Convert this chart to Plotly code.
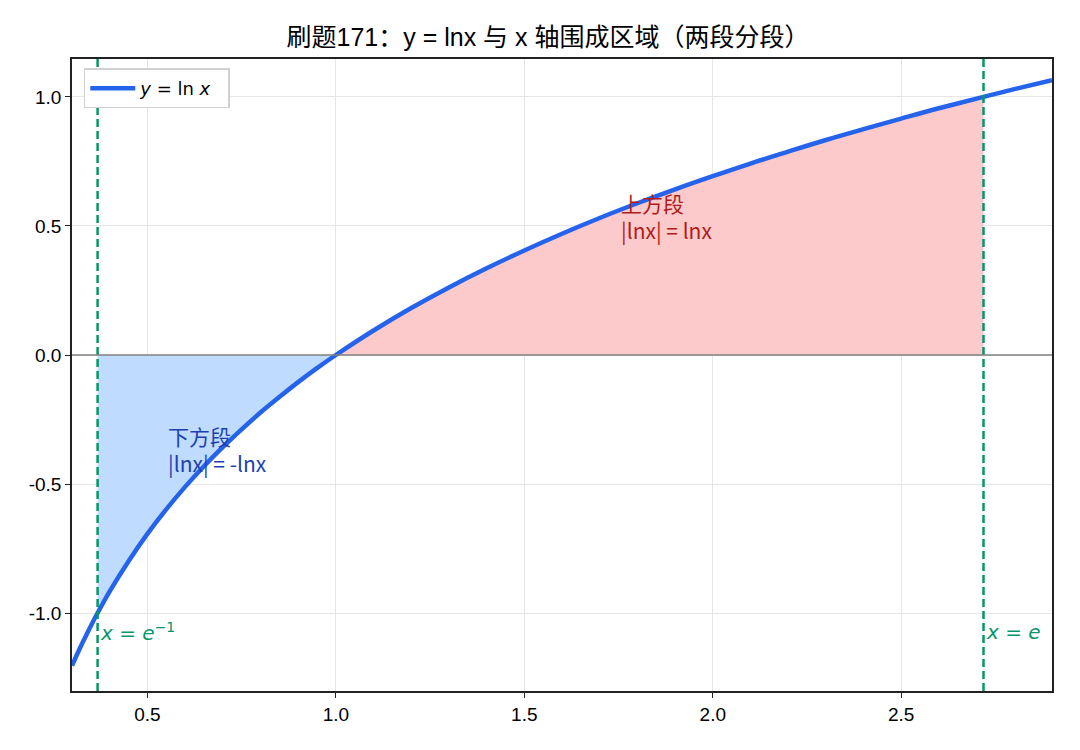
import plotly.graph_objects as go

# y = ln x のサンプル点
x_pts = [0.30, 0.32, 0.34, 0.3679, 0.40, 0.45, 0.50, 0.55, 0.60, 0.65, 0.70, 0.75, 0.80,
         0.85, 0.90, 0.95, 1.00, 1.10, 1.20, 1.30, 1.40, 1.50, 1.60, 1.70, 1.80, 1.90,
         2.00, 2.10, 2.20, 2.30, 2.40, 2.50, 2.60, 2.7183, 2.80, 2.90]
y_pts = [-1.204, -1.139, -1.079, -1.000, -0.916, -0.799, -0.693, -0.598, -0.511, -0.431,
         -0.357, -0.288, -0.223, -0.163, -0.105, -0.051, 0.000, 0.095, 0.182, 0.262,
         0.336, 0.405, 0.470, 0.531, 0.588, 0.642, 0.693, 0.742, 0.788, 0.833, 0.875,
         0.916, 0.956, 1.000, 1.030, 1.065]

# 積分区間の端点 e^-1, 1, e
x_left = 0.3679
x_mid = 1.0
x_right = 2.7183

green = "#059669"
blue = "#2563eb"

lower = [(x, y) for x, y in zip(x_pts, y_pts) if x_left <= x <= x_mid]
upper = [(x, y) for x, y in zip(x_pts, y_pts) if x_mid <= x <= x_right]

fig = go.Figure()

fig.add_trace(go.Scatter(x=[p[0] for p in lower], y=[p[1] for p in lower], mode="lines",
                         line=dict(width=0, shape="spline"), fill="tozeroy",
                         fillcolor="rgba(191,219,254,1)", showlegend=False, hoverinfo="skip"))
fig.add_trace(go.Scatter(x=[p[0] for p in upper], y=[p[1] for p in upper], mode="lines",
                         line=dict(width=0, shape="spline"), fill="tozeroy",
                         fillcolor="rgba(252,202,202,1)", showlegend=False, hoverinfo="skip"))

# 下方段・上方段の説明
fig.add_annotation(x=1.75, y=0.535, text="上方段<br>|lnx| = lnx", showarrow=False,
                   xanchor="left", yanchor="middle", align="left",
                   font=dict(family="Noto Sans CJK SC", size=21, color="#b01c1c"))
fig.add_annotation(x=0.55, y=-0.365, text="下方段<br>|lnx| = -lnx", showarrow=False,
                   xanchor="left", yanchor="middle", align="left",
                   font=dict(family="Noto Sans CJK SC", size=21, color="#1e40af"))

fig.add_trace(go.Scatter(x=x_pts, y=y_pts, mode="lines", name="<i>y</i> = ln <i>x</i>  ",
                         line=dict(color=blue, width=4.5, shape="spline")))

for xv, label in [(x_left, "<i>x</i> = <i>e</i><sup>−1</sup>"), (x_right, "<i>x</i> = <i>e</i>")]:
    fig.add_vline(x=xv, line=dict(color=green, width=2.5, dash="8px,4px"))
    fig.add_annotation(x=xv, y=-1.075, text=label, showarrow=False, xanchor="left",
                       xshift=0, font=dict(family="DejaVu Sans", size=20, color=green))

tick_font = dict(family="Liberation Sans", size=19, color="black")

fig.update_layout(
    title=dict(text="刷题171：y = lnx 与 x 轴围成区域（两段分段）", x=0.5, xanchor="center",
               y=0.961, yanchor="middle",
               font=dict(family="Liberation Sans, Noto Sans CJK SC", size=25, color="black")),
    width=1080, height=750,
    margin=dict(l=64, r=36, t=51, b=67),
    plot_bgcolor="white", paper_bgcolor="white",
    font=dict(family="Liberation Sans", size=19, color="black"),
    legend=dict(x=0.012, y=0.985, xanchor="left", yanchor="top", bgcolor="white",
                bordercolor="#d0d0d0", borderwidth=1.5, itemwidth=45,
                font=dict(family="DejaVu Sans", size=18)),
)
fig.update_xaxes(range=[0.3, 2.9], tickvals=[0.5, 1.0, 1.5, 2.0, 2.5],
                 ticktext=["0.5", "1.0", "1.5", "2.0", "2.5"], tickfont=tick_font,
                 showgrid=True, gridcolor="#e6e6e6", gridwidth=1.2,
                 showline=True, linecolor="#222", linewidth=1.5, mirror=True,
                 ticks="outside", ticklen=5, tickcolor="#222", zeroline=False)
fig.update_yaxes(range=[-1.302, 1.147], tickvals=[-1.0, -0.5, 0.0, 0.5, 1.0],
                 ticktext=["-1.0", "-0.5", "0.0", "0.5", "1.0"], tickfont=tick_font,
                 showgrid=True, gridcolor="#e6e6e6", gridwidth=1.2,
                 showline=True, linecolor="#222", linewidth=1.5, mirror=True,
                 ticks="outside", ticklen=5, tickcolor="#222",
                 zeroline=False)
fig.add_hline(y=0, line=dict(color="#808080", width=1.5))

fig.write_html("out.html")
